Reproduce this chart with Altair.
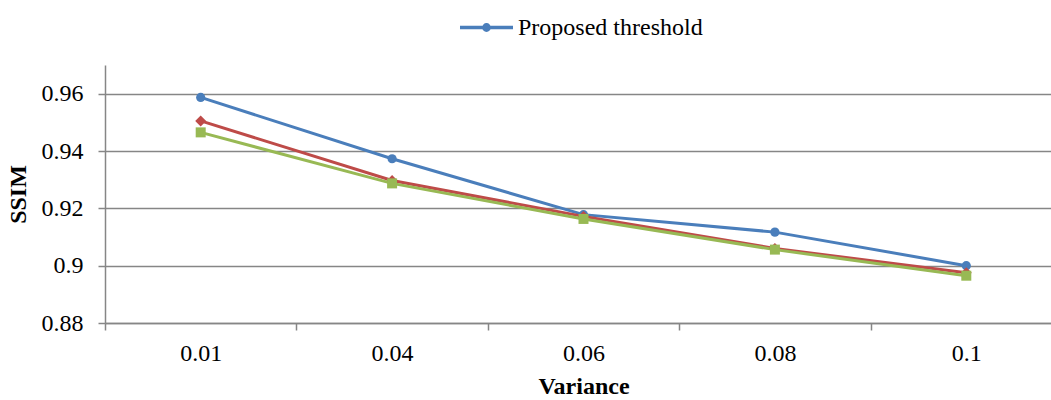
import altair as alt
import pandas as pd

variance = ["0.01", "0.04", "0.06", "0.08", "0.1"]
series_names = ["Proposed threshold", "Series 2", "Series 3"]
proposed = [0.9587, 0.9373, 0.9178, 0.9117, 0.9000]
series2 = [0.9505, 0.9297, 0.9172, 0.9060, 0.8975]
series3 = [0.9465, 0.9287, 0.9163, 0.9056, 0.8965]
colors = ["#4A7EBB", "#BE4B48", "#98B954"]
shapes = ["circle", "diamond", "square"]
sizes = [85, 120, 100]
y_ticks = [0.88, 0.9, 0.92, 0.94, 0.96]

rows = []
for name, vals in zip(series_names, [proposed, series2, series3]):
    for v, s in zip(variance, vals):
        rows.append({"Variance": v, "SSIM": s, "Series": name})
df = pd.DataFrame(rows)

FONT = "Liberation Serif"
FS = 24

x = alt.X("Variance:N", sort=variance, title="Variance",
          scale=alt.Scale(range=[0, 957], paddingInner=0, paddingOuter=0),
          axis=alt.Axis(labelAngle=0, tickBand="extent", grid=False, tickSize=7,
                        labelPadding=11, titlePadding=9, labelFontSize=FS,
                        titleFontSize=FS, titleFontWeight="bold"))
y = alt.Y("SSIM:Q", title="SSIM",
          scale=alt.Scale(domain=[0.88, 0.97], nice=False, zero=False),
          axis=alt.Axis(values=y_ticks, format="~g", tickSize=7, labelPadding=15,
                        titlePadding=11, labelFontSize=FS, titleFontSize=FS,
                        titleFontWeight="bold", grid=True))

color_scale = alt.Scale(domain=series_names, range=colors)

legend_path = ("M -1 0 L 1 0 "
               "M -0.1 0 A 0.1 0.1 0 1 0 0.1 0 A 0.1 0.1 0 1 0 -0.1 0 Z")

legend = alt.Legend(values=["Proposed threshold"], title=None,
                    orient="none", legendX=353, legendY=-66,
                    symbolType=legend_path, symbolSize=2809,
                    symbolStrokeWidth=3.5, labelFontSize=FS, labelLimit=0,
                    labelOffset=3, padding=0)

color = alt.Color("Series:N", scale=color_scale, legend=legend)

lines = alt.Chart(df).mark_line(strokeWidth=3).encode(x=x, y=y, color=color)

layers = [lines]
for name, shp, sz in zip(series_names, shapes, sizes):
    layers.append(
        alt.Chart(df).transform_filter(alt.datum.Series == name)
        .mark_point(filled=True, opacity=1, shape=shp, size=sz)
        .encode(x=x, y=y, color=color)
    )

chart = alt.layer(*layers).properties(
    width=946, height=258,
    autosize=alt.AutoSizeParams(type="none"),
    padding={"left": 105, "top": 65, "right": 0, "bottom": 77},
).configure(font=FONT).configure_axis(
    domainColor="#868686", tickColor="#868686", gridColor="#868686",
    gridWidth=1.5, domainWidth=1.5, tickWidth=1.5,
    labelColor="black", titleColor="black", labelFont=FONT, titleFont=FONT,
).configure_legend(labelFont=FONT, labelColor="black").configure_view(stroke=None)

chart.save("out.html", embed_options={"renderer": "svg", "actions": False})
